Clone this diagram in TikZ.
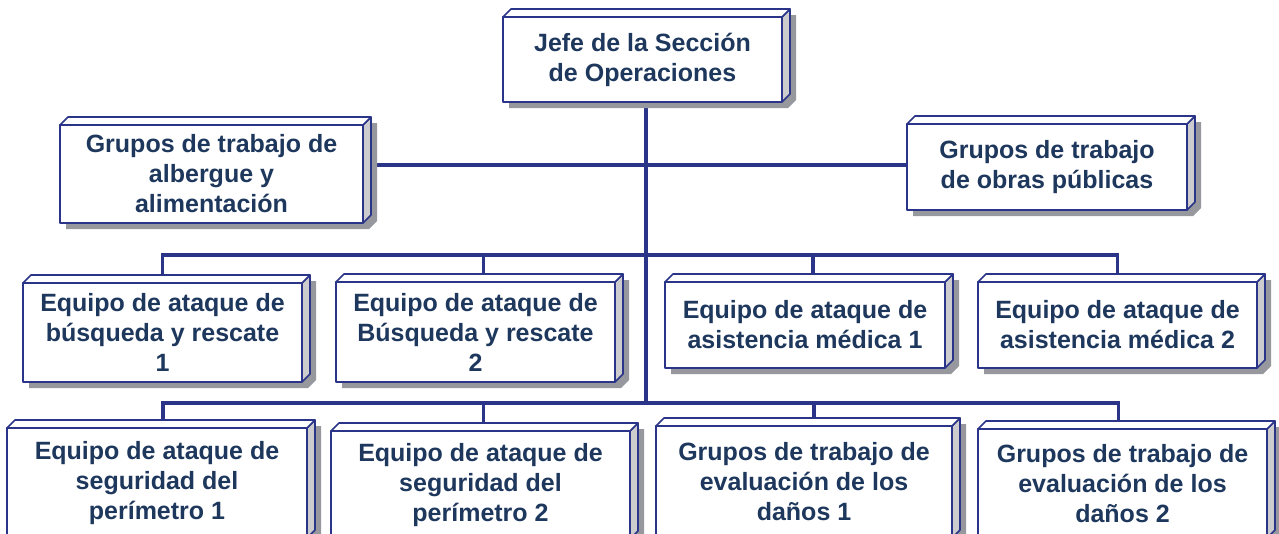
\documentclass[tikz,border=0pt]{standalone}
\usepackage{fontspec}
\setmainfont{Liberation Sans}
\usepackage{tikz}
\usetikzlibrary{calc, backgrounds}

\definecolor{azul}{RGB}{42,52,136}
\definecolor{textoazul}{RGB}{30,55,92}
\definecolor{lateral}{RGB}{204,204,206}
\definecolor{sombra}{RGB}{150,152,158}

% caja 3D: nombre, x1, y1, x2, y2, texto
\newcommand{\caja}[6]{%
  \fill[sombra] (#2+6,#5+6) -- (#2+6,#3+6) -- (#2+14,#3-2) -- (#4+14,#3-2) -- (#4+14,#5-2) -- (#4+6,#5+6) -- cycle;
  \filldraw[borde, fill=lateral] (#4,#3) -- (#4+8,#3-8) -- (#4+8,#5-8) -- (#4,#5) -- cycle;
  \filldraw[borde, fill=white] (#2,#3) -- (#2+8,#3-8) -- (#4+8,#3-8) -- (#4,#3) -- cycle;
  \node[bloque, minimum width=#4-#2, minimum height=#5-#3] (#1) at ({(#2+#4)/2},{(#3+#5)/2}) {#6};
}

\begin{document}
\begin{tikzpicture}[x=1pt, y=-1pt,
  borde/.style={draw=azul, line width=1.6pt, line join=round},
  bloque/.style={borde, fill=white, inner sep=2pt, align=center, text=textoazul,
    font=\bfseries\fontsize{25}{30}\selectfont},
  linea/.style={draw=azul, line width=3.6pt}]
  \clip (0,0) rectangle (1279,533);

  % Jefe de la Sección
  \caja{jefe}{503}{17}{782}{102}{Jefe de la Sección\\de Operaciones}
  % Grupos de trabajo
  \caja{albergue}{60}{125}{363}{223}{Grupos de trabajo de\\albergue y\\alimentación}
  \caja{obras}{907}{124}{1187}{210}{Grupos de trabajo\\de obras públicas}
  % Equipos de ataque
  \caja{busq1}{23}{283}{302}{382}{Equipo de ataque de\\búsqueda y rescate\\1}
  \caja{busq2}{336}{282}{615}{382}{Equipo de ataque de\\Búsqueda y rescate\\2}
  \caja{medica1}{665}{282}{945}{368}{Equipo de ataque de\\asistencia médica 1}
  \caja{medica2}{978}{282}{1257}{368}{Equipo de ataque de\\asistencia médica 2}
  % Fila inferior
  \caja{perim1}{7}{428}{307}{538}{Equipo de ataque de\\seguridad del\\perímetro 1}
  \caja{perim2}{331}{431}{630}{539}{Equipo de ataque de\\seguridad del\\perímetro 2}
  \caja{danos1}{656}{426}{952}{538}{Grupos de trabajo de\\evaluación de los\\daños 1}
  \caja{danos2}{978}{429}{1267}{538}{Grupos de trabajo de\\evaluación de los\\daños 2}

  % Conectores
  \coordinate (eje1) at (646,165);
  \coordinate (eje2) at (646,255);
  \coordinate (eje3) at (646,403);
  \begin{scope}[on background layer]
    \draw[linea] (jefe.south -| eje3) -- (eje3);
    \draw[linea] (albergue.east |- eje1) -- (obras.west |- eje1);
    \draw[linea] (busq1.north) |- (medica2.north |- eje2) -- (medica2.north);
    \draw[linea] ([xshift=8pt]busq2.north) -- ([xshift=8pt]busq2.north |- eje2);
    \draw[linea] ([xshift=8pt]medica1.north) -- ([xshift=8pt]medica1.north |- eje2);
    \draw[linea] ([xshift=6pt]perim1.north) |- ([xshift=-4pt]danos2.north |- eje3) -- ([xshift=-4pt]danos2.north);
    \draw[linea] ([xshift=3pt]perim2.north) -- ([xshift=3pt]perim2.north |- eje3);
    \draw[linea] ([xshift=10pt]danos1.north) -- ([xshift=10pt]danos1.north |- eje3);
  \end{scope}
\end{tikzpicture}
\end{document}
